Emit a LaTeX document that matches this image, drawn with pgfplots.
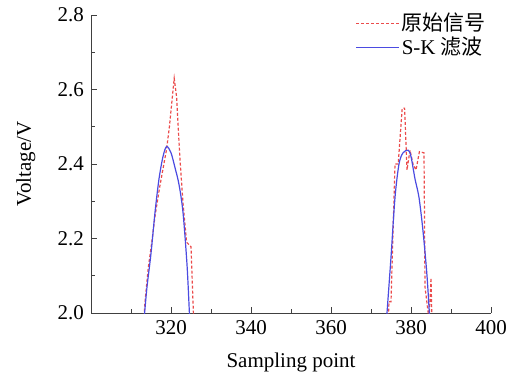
\documentclass[border=0pt]{standalone}
\usepackage{fontspec}
\setmainfont{Liberation Serif}
\newfontfamily\cjk{Noto Sans CJK SC}
\usepackage{pgfplots}
\pgfplotsset{compat=1.18}
\definecolor{sigred}{RGB}{235,75,75}
\definecolor{skblue}{RGB}{75,75,225}
\begin{document}
\fontsize{21}{25}\selectfont
\begin{tikzpicture}
\useasboundingbox (0,0) rectangle (514pt,378pt);
\begin{axis}[
  at={(91pt,65pt)}, anchor=south west,
  width=400pt, height=298pt, scale only axis,
  xmin=300, xmax=400, ymin=2.0, ymax=2.8,
  axis x line*=bottom, axis y line*=left,
  axis line style={-, thick, black!75},
  xtick={320,340,360,380,400},
  minor xtick={310,330,350,370,390},
  ytick={2.0,2.2,2.4,2.6,2.8},
  minor ytick={2.1,2.3,2.5,2.7},
  tick align=inside,
  major tick length=6pt, minor tick length=4pt,
  tick style={thick, black!75},
  yticklabel style={/pgf/number format/fixed, /pgf/number format/precision=1, /pgf/number format/fixed zerofill},
  /pgf/number format/assume math mode=true,
  ticklabel style={font=\fontsize{21}{25}\selectfont},
  xlabel={Sampling point}, ylabel={Voltage/V},
  label style={font=\fontsize{21}{25}\selectfont},
  xlabel style={yshift=-4pt},
  ylabel style={yshift=8pt},
  legend style={draw=none, fill=none, at={(1,1.02)}, anchor=north east,
    font=\fontsize{21}{25}\selectfont, row sep=-1pt},
  legend cell align=left,
  legend image code/.code={\draw[#1] (0pt,0pt) -- (43pt,0pt);},
  clip=true,
]
\addplot[sigred, very thick, dash pattern=on 3pt off 2pt] coordinates {
(313.0,1.95) (313.5,2.03) (314.3,2.12) (315.2,2.19) (316.0,2.26) (317.2,2.34)
(318.9,2.44) (319.6,2.50) (320.8,2.63) (321.4,2.58) (322.2,2.42) (323.0,2.295)
(323.9,2.19) (325.0,2.178) (325.6,2.0) (325.8,1.95)
};
\addlegendentry{{\cjk 原始信号}}
\addplot[skblue, very thick, smooth] coordinates {
(313.0,1.95) (313.4,2.0) (314.0,2.07) (315.0,2.16) (316.0,2.27) (317.0,2.36)
(318.0,2.42) (318.9,2.447) (320.0,2.43) (321.0,2.39) (322.0,2.345)
(323.0,2.27) (324.0,2.13) (324.6,2.0) (324.8,1.95)
};
\addlegendentry{S-K {\cjk 滤波}}
\addplot[sigred, very thick, dash pattern=on 3pt off 2pt, forget plot] coordinates {
(374.2,1.95) (374.5,2.03) (375.0,2.03) (376.0,2.40) (376.8,2.40) (377.8,2.55)
(378.4,2.55) (379.0,2.384) (379.75,2.437) (380.5,2.40) (381.25,2.384)
(382.1,2.433) (383.25,2.43) (383.5,2.07) (384.3,2.0) (384.6,2.0)
(385.0,2.094) (385.3,1.95)
};
\addplot[skblue, very thick, smooth, forget plot] coordinates {
(373.7,1.95) (374.0,2.0) (375.0,2.15) (376.0,2.31) (377.0,2.40) (378.0,2.43)
(379.3,2.437) (380.0,2.42) (381.0,2.36) (382.0,2.31) (383.0,2.22)
(384.0,2.10) (384.7,1.98) (384.9,1.95)
};
\end{axis}
\end{tikzpicture}
\end{document}
